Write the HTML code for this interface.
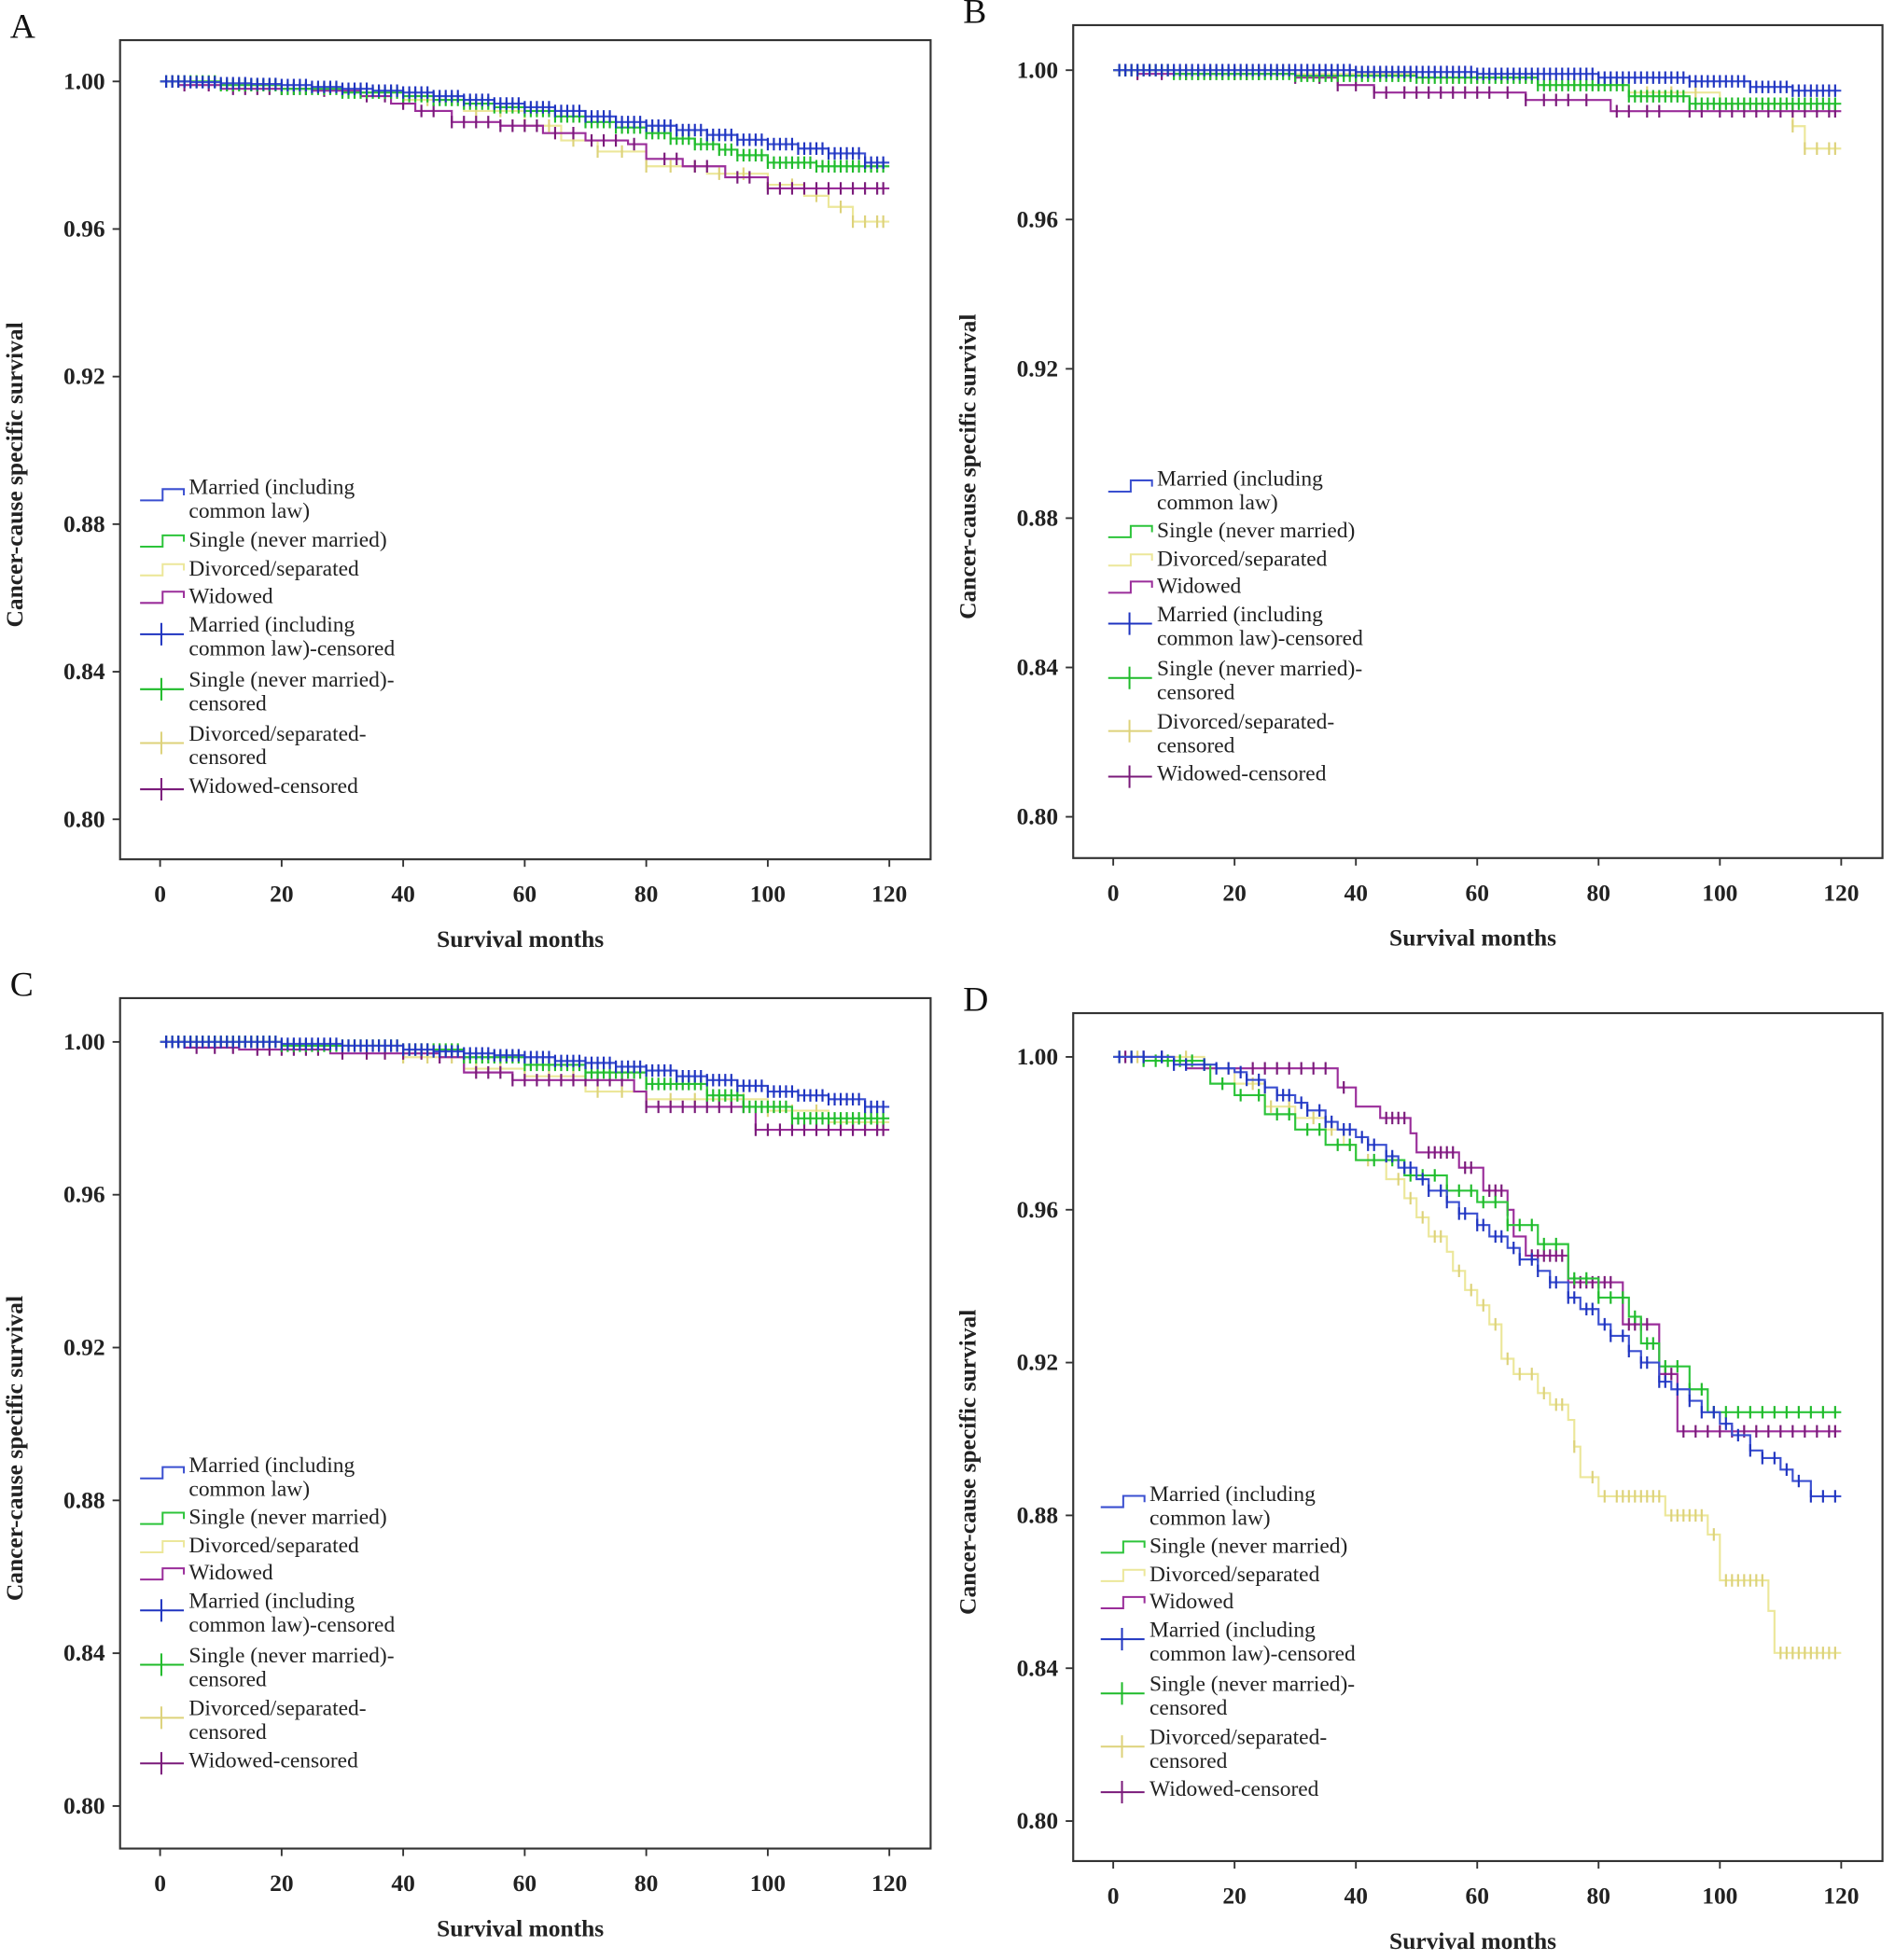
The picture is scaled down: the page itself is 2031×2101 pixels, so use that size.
<!DOCTYPE html>
<html><head><meta charset="utf-8"><title>Cancer-cause specific survival by marital status</title>
<style>
html,body{margin:0;padding:0;background:#fff;}
svg{display:block;}
text{font-family:"Liberation Serif","DejaVu Serif",serif;}
.tick{font-size:19px;font-weight:bold;fill:#222;}
.title{font-size:19px;font-weight:bold;fill:#222;}
.leg{font-size:17.5px;fill:#222;}
.plabel{font-size:28px;fill:#111;}
</style></head>
<body>
<svg id="fig" width="2031" height="2101" viewBox="0 0 1515 1567" xmlns="http://www.w3.org/2000/svg"></svg>
<script>
// ---------- DATA ----------
const xTicks = [0, 20, 40, 60, 80, 100, 120];
const yTicks = [0.80, 0.84, 0.88, 0.92, 0.96, 1.00];
const yTickLabels = ["0.80", "0.84", "0.88", "0.92", "0.96", "1.00"];
const seriesNames = ["Married (including common law)", "Single (never married)", "Divorced/separated", "Widowed"];

// Panel A
const aMarriedT = [0, 5, 10, 15, 20, 25, 30, 35, 40, 45, 50, 55, 60, 65, 70, 75, 80, 85, 90, 95, 100, 105, 110, 116];
const aMarriedS = [1.0, 0.9998, 0.9995, 0.9993, 0.999, 0.9985, 0.998, 0.9975, 0.997, 0.996, 0.995, 0.994, 0.993, 0.992, 0.9905, 0.989, 0.988, 0.9868, 0.9855, 0.9842, 0.983, 0.9818, 0.9805, 0.978];
const aSingleT = [0, 10, 20, 30, 40, 45, 50, 55, 60, 65, 70, 75, 80, 84, 88, 92, 95, 100, 108];
const aSingleS = [1.0, 0.999, 0.998, 0.997, 0.996, 0.995, 0.994, 0.993, 0.992, 0.9905, 0.989, 0.9875, 0.986, 0.9845, 0.983, 0.9815, 0.980, 0.978, 0.977];
const aDivT = [0, 10, 20, 30, 40, 50, 60, 66, 72, 80, 90, 100, 106, 110, 114];
const aDivS = [1.0, 0.999, 0.998, 0.997, 0.995, 0.992, 0.988, 0.984, 0.981, 0.977, 0.975, 0.972, 0.969, 0.966, 0.962];
const aWidT = [0, 3, 10, 25, 33, 38, 42, 48, 56, 63, 70, 77, 80, 86, 93, 100];
const aWidS = [1.0, 0.999, 0.998, 0.9975, 0.996, 0.994, 0.992, 0.989, 0.988, 0.986, 0.984, 0.983, 0.979, 0.977, 0.974, 0.971];
// Panel B
const bMarriedT = [0, 40, 60, 80, 95, 105, 112];
const bMarriedS = [1.0, 0.9995, 0.999, 0.998, 0.997, 0.9955, 0.9945];
const bSingleT = [0, 10, 30, 50, 70, 85, 95];
const bSingleS = [1.0, 0.999, 0.9985, 0.998, 0.996, 0.993, 0.991];
const bDivT = [0, 30, 50, 70, 85, 100, 112, 114];
const bDivS = [1.0, 0.999, 0.998, 0.996, 0.994, 0.991, 0.985, 0.979];
const bWidT = [0, 4, 30, 37, 43, 68, 82];
const bWidS = [1.0, 0.999, 0.998, 0.996, 0.994, 0.992, 0.989];
// Panel C
const cMarriedT = [0, 20, 30, 40, 45, 50, 55, 60, 65, 70, 75, 80, 85, 90, 95, 100, 105, 110, 116];
const cMarriedS = [1.0, 0.9995, 0.999, 0.998, 0.9975, 0.997, 0.9965, 0.996, 0.995, 0.9945, 0.9935, 0.9925, 0.991, 0.990, 0.9885, 0.987, 0.986, 0.985, 0.983];
const cSingleT = [0, 20, 40, 50, 60, 70, 80, 90, 96, 104];
const cSingleS = [1.0, 0.999, 0.998, 0.996, 0.994, 0.992, 0.989, 0.986, 0.983, 0.980];
const cDivT = [0, 20, 40, 50, 60, 70, 80, 100, 110];
const cDivS = [1.0, 0.999, 0.996, 0.993, 0.991, 0.987, 0.985, 0.982, 0.979];
const cWidT = [0, 4, 13, 28, 46, 50, 58, 78, 80, 98];
const cWidS = [1.0, 0.9985, 0.998, 0.997, 0.996, 0.992, 0.990, 0.987, 0.983, 0.977];
// Panel D
const dMarriedT = [0, 10, 17, 20, 22, 25, 27, 30, 32, 35, 37, 40, 42, 45, 47, 50, 52, 55, 57, 60, 62, 65, 67, 70, 72, 75, 77, 80, 82, 85, 87, 90, 92, 95, 97, 100, 102, 105, 107, 110, 112, 115];
const dMarriedS = [1.0, 0.998, 0.997, 0.996, 0.994, 0.992, 0.990, 0.988, 0.986, 0.983, 0.981, 0.979, 0.977, 0.974, 0.971, 0.968, 0.965, 0.962, 0.959, 0.956, 0.953, 0.950, 0.947, 0.944, 0.941, 0.937, 0.934, 0.930, 0.927, 0.923, 0.920, 0.915, 0.913, 0.910, 0.907, 0.904, 0.901, 0.897, 0.895, 0.892, 0.889, 0.885];
const dSingleT = [0, 5, 15, 16, 20, 25, 30, 35, 40, 48, 55, 60, 65, 70, 75, 80, 85, 87, 90, 95, 98];
const dSingleS = [1.0, 0.999, 0.998, 0.993, 0.990, 0.985, 0.981, 0.977, 0.973, 0.969, 0.965, 0.962, 0.956, 0.951, 0.942, 0.937, 0.932, 0.925, 0.919, 0.913, 0.907];
const dDivT = [0, 15, 20, 25, 30, 35, 38, 40, 45, 48, 50, 52, 55, 56, 58, 60, 62, 64, 66, 70, 72, 75, 76, 77, 80, 91, 98, 100, 108, 109];
const dDivS = [1.0, 0.997, 0.993, 0.987, 0.984, 0.981, 0.977, 0.973, 0.968, 0.963, 0.958, 0.953, 0.949, 0.944, 0.939, 0.935, 0.930, 0.921, 0.917, 0.912, 0.909, 0.905, 0.898, 0.890, 0.885, 0.880, 0.875, 0.863, 0.855, 0.844];
const dWidT = [0, 10, 12, 37, 40, 44, 49, 50, 57, 61, 65, 66, 68, 75, 84, 90, 93];
const dWidS = [1.0, 0.999, 0.997, 0.992, 0.987, 0.984, 0.980, 0.975, 0.971, 0.965, 0.960, 0.953, 0.948, 0.941, 0.930, 0.917, 0.902];

// censoring times (months)
const denseCensor = [1,2,3,4,5,6,7,8,9,10,11,12,13,14,15,16,17,18,19,20,21,22,23,24,25,26,27,28,29,30,31,32,33,34,35,36,37,38,39,40,41,42,43,44,45,46,47,48,49,50,51,52,53,54,55,56,57,58,59,60,61,62,63,64,65,66,67,68,69,70,71,72,73,74,75,76,77,78,79,80,81,82,83,84,85,86,87,88,89,90,91,92,93,94,95,96,97,98,99,100,101,102,103,104,105,106,107,108,109,110,111,112,113,114,115,116,117,118,119];
const sparseWidA = [2,4,8,12,14,16,18,20,22,24,27,30,34,37,40,43,45,48,50,52,54,56,58,60,62,65,68,71,73,75,78,83,85,88,90,95,97,100,102,104,106,108,110,112,114,116,118,119];
const sparseDivA = [3,6,9,12,16,20,24,28,32,36,40,44,48,52,56,60,64,68,72,76,80,84,88,92,96,100,104,108,112,114,116,118,119];
const cWidCensor = [1,3,6,9,12,16,18,20,22,24,26,30,34,37,40,43,46,52,54,56,58,60,62,64,66,68,70,72,74,76,80,82,84,86,88,90,92,94,96,98,100,102,104,106,108,110,112,114,116,118,119];
const dMarriedCensor = [1,3,5,8,10,12,15,17,19,21,22,24,25,27,28,29,31,32,34,35,36,38,39,41,42,43,45,46,48,49,51,52,54,55,57,58,60,61,63,64,66,67,69,70,72,73,75,76,78,79,81,82,84,85,87,88,90,91,93,95,97,99,101,103,105,107,109,111,113,115,117,119];
const dSingleCensor = [1,3,5,7,9,11,13,15,18,21,24,27,29,32,34,37,39,43,46,49,51,53,55,57,59,61,63,65,67,69,71,73,76,78,80,82,84,86,88,89,91,93,95,97,99,101,103,105,107,109,111,113,115,117,119];
const dDivCensor = [4,12,19,23,26,29,33,36,39,42,47,49,51,53,54,57,59,61,63,65,67,69,71,73,74,76,79,81,83,84,85,86,87,88,89,90,92,93,94,95,96,97,99,101,102,103,104,105,106,107,110,111,112,113,114,115,116,117,118,119];
const dWidCensor = [2,5,8,23,25,27,29,31,33,35,38,45,46,47,48,52,53,54,55,56,58,59,62,63,64,65,69,70,71,72,73,74,76,77,78,79,80,81,82,85,86,87,88,91,92,94,96,98,100,102,104,106,108,110,112,114,116,118,119];

// ---------- LAYOUT ----------
const colors = {line:["#3a4fd0","#2cc43a","#ece79a","#9a2d9a"], cens:["#1f34c0","#1fbb2a","#ddd27a","#7a1a7a"]};
const panels = [
  {id:"a", label:"A", fx:96, fy:32, fw:648, fh:655, x0:128, x1:711, y1:65, y0:655, lx:112, ly:395, lsp:1.0,
   data:[[aMarriedT,aMarriedS,denseCensor],[aSingleT,aSingleS,denseCensor],[aDivT,aDivS,sparseDivA],[aWidT,aWidS,sparseWidA]]},
  {id:"b", label:"B", fx:858, fy:20, fw:647, fh:666, x0:890, x1:1472, y1:56, y0:653, lx:886, ly:388, lsp:0.987,
   data:[[bMarriedT,bMarriedS,denseCensor],[bSingleT,bSingleS,denseCensor],[bDivT,bDivS,sparseDivA],[bWidT,bWidS,sparseWidA]]},
  {id:"c", label:"C", fx:96, fy:798, fw:648, fh:680, x0:128, x1:711, y1:833, y0:1444, lx:112, ly:1177, lsp:0.987,
   data:[[cMarriedT,cMarriedS,denseCensor],[cSingleT,cSingleS,denseCensor],[cDivT,cDivS,sparseDivA],[cWidT,cWidS,cWidCensor]]},
  {id:"d", label:"D", fx:858, fy:810, fw:647, fh:678, x0:890, x1:1472, y1:845, y0:1456, lx:880, ly:1200, lsp:0.987,
   data:[[dMarriedT,dMarriedS,dMarriedCensor],[dSingleT,dSingleS,dSingleCensor],[dDivT,dDivS,dDivCensor],[dWidT,dWidS,dWidCensor]]}
];
const NS = "http://www.w3.org/2000/svg";
const svg = document.getElementById("fig");
function mk(tag, attrs, parent){ const e=document.createElementNS(NS,tag); for(const k in attrs) e.setAttribute(k,attrs[k]); (parent||svg).appendChild(e); return e; }
function survAt(T,S,t){ let s=S[0]; for(let i=0;i<T.length;i++){ if(T[i]<=t) s=S[i]; } return s; }

panels.forEach(p=>{
  const g = mk("g",{});
  
  
  const xs = v => p.x0 + (v/120)*(p.x1-p.x0);
  const ys = v => p.y0 - ((v-0.80)/0.20)*(p.y0-p.y1);
  const lab = mk("text",{x:p.fx-88, y:p.fy-2, class:"plabel"},g); lab.textContent=p.label;
  
  
  const fr = mk("rect",{x:p.fx,y:p.fy,width:p.fw,height:p.fh,fill:"none",stroke:"#333","stroke-width":1.6},g);
  
  
  yTicks.forEach((v,i)=>{
    mk("line",{x1:p.fx-6,x2:p.fx,y1:ys(v),y2:ys(v),stroke:"#333","stroke-width":1.4},g);
    const t = mk("text",{x:p.fx-12,y:ys(v)+6,"text-anchor":"end",class:"tick"},g); t.textContent=yTickLabels[i];
    
    
  });
  xTicks.forEach(v=>{
    mk("line",{x1:xs(v),x2:xs(v),y1:p.fy+p.fh,y2:p.fy+p.fh+6,stroke:"#333","stroke-width":1.4},g);
    const t = mk("text",{x:xs(v),y:p.fy+p.fh+34,"text-anchor":"middle",class:"tick"},g); t.textContent=v;
    
    
  });
  const xt = mk("text",{x:p.fx+p.fw/2-4,y:p.fy+p.fh+70,"text-anchor":"middle",class:"title"},g); xt.textContent="Survival months";
  
  
  const cy = p.fy+p.fh/2+20, cx = p.fx-78;
  const yt = mk("text",{x:cx,y:cy,"text-anchor":"middle",class:"title",transform:`rotate(-90 ${cx} ${cy})`},g); yt.textContent="Cancer-cause specific survival";
  
  
  [2,3,1,0].forEach(k=>{
    const [T,S,C] = p.data[k];
    let d = `M${xs(T[0])},${ys(S[0])}`;
    for(let i=1;i<T.length;i++){ d += ` H${xs(T[i])} V${ys(S[i])}`; }
    d += ` H${xs(120)}`;
    const path = mk("path",{d:d,fill:"none",stroke:colors.line[k],"stroke-width":1.6},g);
    
    
    let cd = "";
    C.forEach(t=>{ const X=xs(t), Y=ys(survAt(T,S,t)); cd += `M${X},${Y-5} V${Y+5} `; });
    const cp = mk("path",{d:cd,fill:"none",stroke:colors.cens[k],"stroke-width":1.6},g);
    
    
  });
  const rows = [
    {type:"s",k:0,lines:["Married (including","common law)"],dy:0},
    {type:"s",k:1,lines:["Single (never married)"],dy:42},
    {type:"s",k:2,lines:["Divorced/separated"],dy:65},
    {type:"s",k:3,lines:["Widowed"],dy:87},
    {type:"c",k:0,lines:["Married (including","common law)-censored"],dy:110},
    {type:"c",k:1,lines:["Single (never married)-","censored"],dy:154},
    {type:"c",k:2,lines:["Divorced/separated-","censored"],dy:197},
    {type:"c",k:3,lines:["Widowed-censored"],dy:239}
  ];
  const lg = mk("g",{},g);
  
  
  rows.forEach(r=>{
    const by = p.ly + r.dy*p.lsp;
    const ic = by - 3 + (r.lines.length>1?5:0);
    if(r.type==="s"){
      mk("path",{d:`M${p.lx},${ic+3} H${p.lx+18} V${ic-6} H${p.lx+35} V${ic-1}`,fill:"none",stroke:colors.line[r.k],"stroke-width":1.5},lg);
    } else {
      mk("path",{d:`M${p.lx},${ic} H${p.lx+35} M${p.lx+17},${ic-9} V${ic+9}`,fill:"none",stroke:colors.cens[r.k],"stroke-width":1.5},lg);
    }
    r.lines.forEach((ln,j)=>{
      const t = mk("text",{x:p.lx+39,y:by+j*19,class:"leg"},lg); t.textContent=ln;
      
      
    });
  });
});
</script>
</body></html>
